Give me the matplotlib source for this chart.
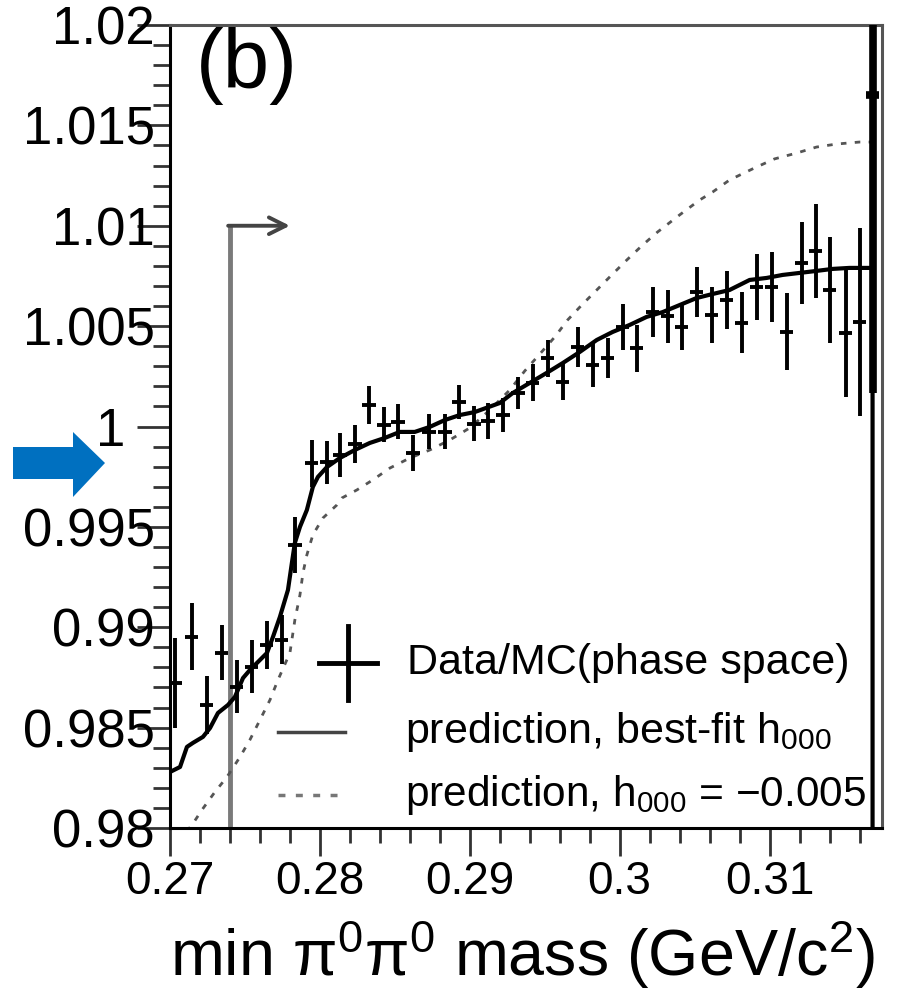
import numpy as np
import matplotlib
matplotlib.use('Agg')
import matplotlib.pyplot as plt
from matplotlib.patches import Polygon
from matplotlib.lines import Line2D
from matplotlib.ticker import MultipleLocator, FuncFormatter

plt.rcParams['font.family'] = ['Liberation Sans', 'DejaVu Sans']
plt.rcParams['mathtext.fontset'] = 'custom'
plt.rcParams['mathtext.rm'] = 'Liberation Sans'
plt.rcParams['mathtext.it'] = 'Liberation Sans:italic'
plt.rcParams['mathtext.bf'] = 'Liberation Sans:bold'

# Datos: cociente Data/MC (phase space)
masa = [0.27033, 0.27145, 0.27245, 0.27345, 0.27445, 0.27545, 0.27645, 0.27745,
        0.27833, 0.27945, 0.28045, 0.28133, 0.28233, 0.28327, 0.28427, 0.28520,
        0.28620, 0.28727, 0.28833, 0.28927, 0.29027, 0.29120, 0.29220, 0.29320,
        0.29420, 0.29520, 0.29620, 0.29720, 0.29820, 0.29920, 0.30020, 0.30113,
        0.30220, 0.30320, 0.30413, 0.30513, 0.30613, 0.30713, 0.30813, 0.30913,
        0.31013, 0.31113, 0.31213, 0.31307, 0.31400, 0.31507, 0.31600, 0.31687]
ratio = [0.98722, 0.98952, 0.98613, 0.98872, 0.98703, 0.98802, 0.98912, 0.98937,
         0.99410, 0.99818, 0.99823, 0.99858, 0.99913, 1.00107, 1.00008, 1.00023,
         0.99868, 0.99973, 0.99973, 1.00122, 1.00013, 1.00028, 1.00057, 1.00167,
         1.00217, 1.00341, 1.00222, 1.00396, 1.00306, 1.00341, 1.00496, 1.00389,
         1.00570, 1.00548, 1.00496, 1.00670, 1.00556, 1.00630, 1.00518, 1.00695,
         1.00695, 1.00471, 1.00815, 1.00874, 1.00680, 1.00466, 1.00521, 1.01651]
err = [0.00224, 0.00167, 0.00144, 0.00137, 0.00132, 0.00132, 0.00120, 0.00122,
       0.00139, 0.00117, 0.00107, 0.00110, 0.00095, 0.00095, 0.00087, 0.00087,
       0.00090, 0.00087, 0.00087, 0.00085, 0.00087, 0.00090, 0.00085, 0.00082,
       0.00092, 0.00092, 0.00090, 0.00100, 0.00110, 0.00100, 0.00115, 0.00117,
       0.00125, 0.00130, 0.00117, 0.00125, 0.00140, 0.00144, 0.00150, 0.00162,
       0.00174, 0.00192, 0.00204, 0.00232, 0.00264, 0.00319, 0.00470, 0.01484]
ancho_bin = 0.00045

# Prediccion con el h000 del mejor ajuste
fit_x = [0.27000, 0.27067, 0.27113, 0.27153, 0.27220, 0.27267, 0.27320, 0.27387,
         0.27433, 0.27487, 0.27533, 0.27600, 0.27647, 0.27687, 0.27733, 0.27787,
         0.27813, 0.27833, 0.27867, 0.27913, 0.27953, 0.27987, 0.28047, 0.28133,
         0.28233, 0.28333, 0.28433, 0.28533, 0.28633, 0.28733, 0.28833, 0.28933,
         0.29033, 0.29200, 0.29287, 0.29400, 0.29513, 0.29620, 0.29733, 0.29847,
         0.29953, 0.30067, 0.30180, 0.30287, 0.30400, 0.30513, 0.30620, 0.30733,
         0.30867, 0.30980, 0.31087, 0.31200, 0.31313, 0.31420, 0.31533, 0.31687,
         0.31687]
fit_y = [0.98279, 0.98304, 0.98404, 0.98424, 0.98454, 0.98498, 0.98573, 0.98613,
         0.98653, 0.98747, 0.98787, 0.98837, 0.98872, 0.98952, 0.99051, 0.99186,
         0.99320, 0.99420, 0.99500, 0.99584, 0.99699, 0.99749, 0.99798, 0.99843,
         0.99883, 0.99918, 0.99943, 0.99973, 0.99973, 0.99998, 1.00032, 1.00057,
         1.00072, 1.00117, 1.00167, 1.00217, 1.00267, 1.00316, 1.00371, 1.00431,
         1.00471, 1.00506, 1.00546, 1.00570, 1.00605, 1.00640, 1.00660, 1.00680,
         1.00730, 1.00740, 1.00755, 1.00765, 1.00775, 1.00785, 1.00790, 1.00790,
         0.97000]

# Prediccion con h000 = -0.005
alt_x = [0.27050, 0.27147, 0.27213, 0.27300, 0.27380, 0.27467, 0.27533, 0.27600,
         0.27667, 0.27720, 0.27800, 0.27833, 0.27867, 0.27887, 0.27913, 0.27953,
         0.28020, 0.28113, 0.28147, 0.28247, 0.28353, 0.28467, 0.28600, 0.28733,
         0.28867, 0.29000, 0.29133, 0.29267, 0.29367, 0.29467, 0.29567, 0.29653,
         0.29747, 0.29847, 0.29947, 0.30047, 0.30153, 0.30253, 0.30400, 0.30533,
         0.30620, 0.30733, 0.30900, 0.31033, 0.31180, 0.31313, 0.31447, 0.31600,
         0.31687, 0.31687]
alt_y = [0.97930, 0.98015, 0.98090, 0.98180, 0.98254, 0.98354, 0.98439, 0.98538,
         0.98638, 0.98737, 0.98872, 0.99036, 0.99161, 0.99270, 0.99360, 0.99460,
         0.99544, 0.99609, 0.99644, 0.99684, 0.99734, 0.99793, 0.99843, 0.99883,
         0.99933, 0.99993, 1.00082, 1.00182, 1.00277, 1.00361, 1.00446, 1.00531,
         1.00605, 1.00680, 1.00755, 1.00829, 1.00904, 1.00969, 1.01054, 1.01128,
         1.01168, 1.01228, 1.01288, 1.01333, 1.01362, 1.01392, 1.01407, 1.01417,
         1.01417, 0.97000]

# Corte en la masa (flecha)
corte_x = 0.274
corte_top = 1.010
corte_fin = 0.278

W, H = 901, 990
fig = plt.figure(figsize=(W / 100, H / 100), dpi=100)
ax = fig.add_axes([170 / W, 1 - 828 / H, 712 / W, 803 / H])

# Curvas
ax.plot(alt_x, alt_y, color='#555555', lw=2.0, dashes=(2.0, 3.0), zorder=2)
ax.plot(fit_x, fit_y, color='black', lw=3.0, zorder=3)

# Puntos con barras de error
ax.errorbar(masa[:-1], ratio[:-1], yerr=err[:-1], xerr=ancho_bin, fmt='none',
            ecolor='black', elinewidth=2.8, capsize=0, zorder=4)
ax.errorbar(masa[-1:], ratio[-1:], yerr=err[-1:], xerr=ancho_bin, fmt='none',
            ecolor='black', elinewidth=5.5, capsize=0, zorder=4)

# Linea de corte con flecha
ax.plot([corte_x, corte_x], [0.98, corte_top], color='#7a7a7a', lw=3.5,
        solid_capstyle='butt', zorder=1, clip_on=False)
ax.annotate('', xy=(corte_fin, corte_top), xytext=(corte_x - 0.00012, corte_top),
            arrowprops=dict(arrowstyle='->', color='#444444', lw=2.8,
                            mutation_scale=30, shrinkA=0, shrinkB=0))

ax.set_xlim(0.27, 0.3175)
ax.set_ylim(0.98, 1.02)

ax.xaxis.set_major_locator(MultipleLocator(0.01))
ax.xaxis.set_minor_locator(MultipleLocator(0.002))
ax.yaxis.set_major_locator(MultipleLocator(0.005))
ax.yaxis.set_minor_locator(MultipleLocator(0.001))


def etiqueta(v, p):
    s = '%g' % round(v, 4)
    if s == '1':
        s = '1  '  # en el original el 1 queda desplazado a la izquierda
    return s


ax.xaxis.set_major_formatter(FuncFormatter(lambda v, p: '%g' % round(v, 4)))
ax.yaxis.set_major_formatter(FuncFormatter(etiqueta))

ax.tick_params(which='both', direction='out', color='#333333', width=2.0)
ax.tick_params(axis='y', which='major', length=24, labelsize=38, pad=-13)
ax.tick_params(axis='y', which='minor', length=12)
ax.tick_params(axis='x', which='major', length=20, labelsize=33, pad=3)
ax.tick_params(axis='x', which='minor', length=11)

for s in ['left', 'bottom']:
    ax.spines[s].set_color('black')
    ax.spines[s].set_linewidth(2.2)
for s in ['top', 'right']:
    ax.spines[s].set_color('#555555')
    ax.spines[s].set_linewidth(2.2)

ax.text(0.036, 0.997, '(b)', transform=ax.transAxes, fontsize=60,
        ha='left', va='top')

# Leyenda dibujada a mano
ax.add_line(Line2D([0.209, 0.291], [0.2055, 0.2055], transform=ax.transAxes,
                   color='black', lw=3.5))
ax.add_line(Line2D([0.25, 0.25], [0.159, 0.252], transform=ax.transAxes,
                   color='black', lw=3.5))
ax.add_line(Line2D([0.152, 0.246], [0.1196, 0.1196], transform=ax.transAxes,
                   color='#444444', lw=2.5))
ax.add_line(Line2D([0.152, 0.246], [0.0411, 0.0411], transform=ax.transAxes,
                   color='#777777', lw=2.5, dashes=(2.0, 3.0)))
ax.text(0.333, 0.2055, 'Data/MC(phase space)', transform=ax.transAxes,
        fontsize=31, va='center')
ax.text(0.330, 0.1196, 'prediction, best-fit h$_{000}$', transform=ax.transAxes,
        fontsize=31, va='center')
ax.text(0.330, 0.0411, 'prediction, h$_{000}$ = \u22120.005',
        transform=ax.transAxes, fontsize=30.5, va='center')

fig.text(522 / W, 1 - 976 / H, 'min \u03c0$^{0}$\u03c0$^{0}$ mass (GeV/c$^{2}$)',
         fontsize=46.5, ha='center', va='baseline')

# Flecha azul a la izquierda
flecha = [(13, 447), (73, 447), (73, 432), (105, 463), (73, 497), (73, 479), (13, 479)]
fig.add_artist(Polygon([(x / W, 1 - y / H) for x, y in flecha], closed=True,
                       transform=fig.transFigure, color='#0070c0', lw=0))

fig.savefig('out.png', dpi=100)
